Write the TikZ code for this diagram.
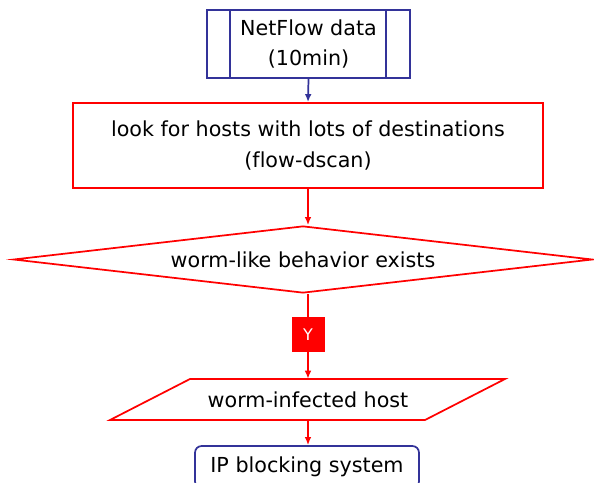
\documentclass[tikz,border=0pt]{standalone}
\usepackage{fontspec}
\setmainfont[Ligatures=NoCommon]{DejaVu Sans}
\usetikzlibrary{shapes.geometric,arrows.meta}
\definecolor{flowred}{RGB}{255,0,0}
\definecolor{flowblue}{RGB}{51,51,153}
\tikzset{
  every node/.style={font=\fontsize{15.5}{23}\selectfont, align=center, inner sep=0pt},
  bluebox/.style={draw=flowblue, line width=1.3pt},
  redbox/.style={draw=flowred, line width=1.3pt},
  redline/.style={draw=flowred, line width=1.3pt},
  redarrow/.style={redline, -{Latex[length=6pt,width=5pt]}},
  bluearrow/.style={bluebox, -{Latex[length=6pt,width=5pt]}},
}

\begin{document}
\begin{tikzpicture}[x=0.75pt,y=-0.75pt]
\clip (0,0) rectangle (594,483);
\node[bluebox, minimum width=152.25pt, minimum height=51pt] (net) at (308.5,44) {NetFlow data\\(10min)};
\draw[bluebox] (230,10) -- (230,78);
\draw[bluebox] (386,10) -- (386,78);
\node[redbox, minimum width=352.5pt, minimum height=63.75pt] (look) at (308,145.5) {look for hosts with lots of destinations\\(flow-dscan)};
\node[redbox, diamond, aspect=8.6, minimum width=434.25pt, minimum height=50.25pt] (dia) at (303,259.5) {worm-like behavior exists};
\node[fill=flowred, text=white, minimum width=24.75pt, minimum height=26.25pt, font=\fontsize{12}{14}\selectfont] (yes) at (308,334.5) {Y};
% parallelogram
\node[minimum width=236pt, minimum height=30.75pt] (host) at (308,399.5) {worm-infected host};
\draw[redbox] (110,420) -- (190,379) -- (505,379) -- (425,420) -- cycle;
\node[bluebox, rounded corners=5pt, minimum width=168pt, minimum height=31.5pt] (ip) at (307,467) {IP blocking system};
\draw[bluearrow] (net.south) -- (look.north);
\draw[redarrow] (look.south) -- (look.south |- dia.north);
\draw[redline] (yes.north |- dia.south) -- (yes.north);
\draw[redarrow] (yes.south) -- (host.north);
\draw[redarrow] (host.south) -- (host.south |- ip.north);
\end{tikzpicture}
\end{document}
